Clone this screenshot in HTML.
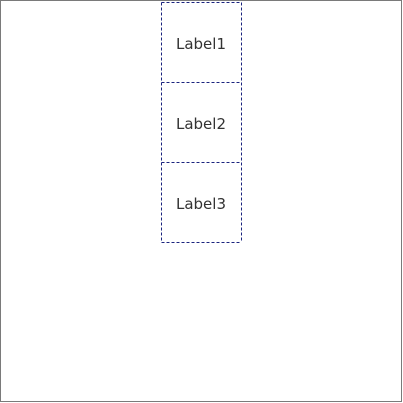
<!DOCTYPE html>
<html><head><style>html,body{margin:0;padding:0;background:#fff}</style></head>
<body>
<svg width="403" height="403" xmlns="http://www.w3.org/2000/svg" style="display:block">
<rect x="0.5" y="0.5" width="401" height="401" fill="#fff" stroke="#7a7a7a" stroke-width="1"/>
<g fill="none" stroke="#1a237e" stroke-width="1" stroke-dasharray="3,2">
<line x1="161.5" y1="2.5" x2="161.5" y2="242.5"/>
<line x1="241.5" y1="2.5" x2="241.5" y2="242.5"/>
<line x1="161.5" y1="2.5" x2="241.5" y2="2.5"/>
<line x1="161.5" y1="82.5" x2="241.5" y2="82.5"/>
<line x1="161.5" y1="162.5" x2="241.5" y2="162.5"/>
<line x1="161.5" y1="242.5" x2="241.5" y2="242.5"/>
</g>
<g font-family="'DejaVu Sans', 'Liberation Sans', sans-serif" font-size="15" fill="#333" text-anchor="middle">
<text x="201" y="49">Label1</text>
<text x="201" y="129">Label2</text>
<text x="201" y="209">Label3</text>
</g>
</svg>
</body></html>
